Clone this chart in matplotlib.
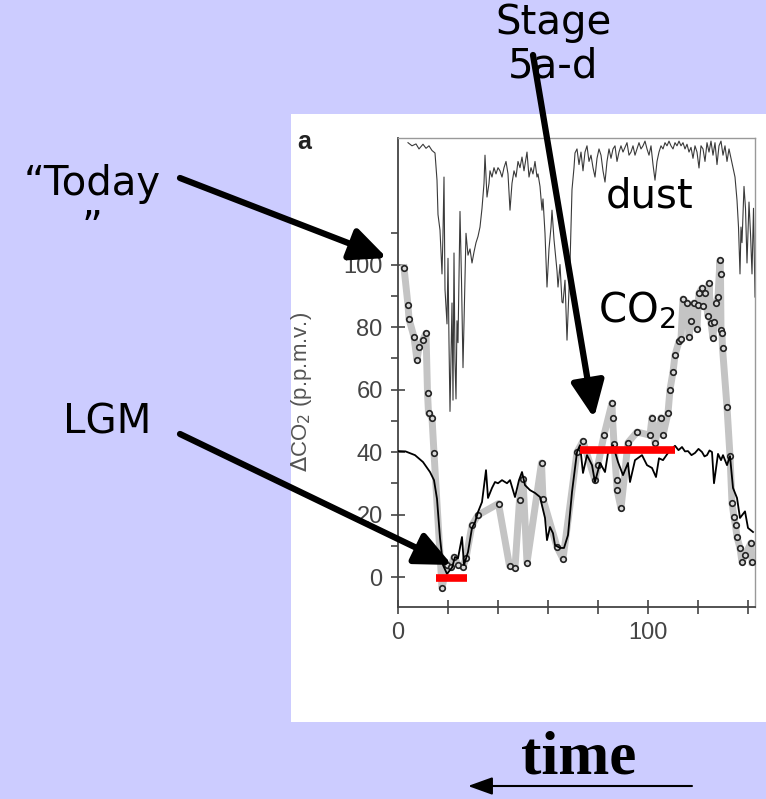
import matplotlib
matplotlib.use("Agg")
import matplotlib.pyplot as plt
from matplotlib.patches import Rectangle, FancyArrowPatch

# -------------------- DATOS --------------------
# CO2 (gris grueso con puntos), edad en kyr
co2_x = [2.4, 4.0, 4.4, 6.4, 7.6, 8.4, 10.0, 11.2, 11.8, 12.2, 13.6, 14.4,
         17.6, 19.6, 21.2, 22.4, 24.0, 26.0, 27.2, 29.6, 32.0, 40.2, 44.6,
         46.8, 48.6, 50.0, 51.6, 57.4, 58.0, 63.6, 66.0, 71.6, 74.0, 78.8,
         80.0, 82.4, 85.6, 85.8, 86.4, 87.4, 87.6, 89.2, 92.0, 95.6, 100.8,
         101.6, 102.8, 105.2, 106.0, 108.0, 108.8, 110.0, 110.8, 112.4, 113.2,
         114.0, 115.6, 116.4, 117.2, 118.4, 119.6, 120.0, 120.4, 121.6, 122.0,
         122.8, 124.0, 124.4, 125.2, 126.0, 126.4, 127.2, 128.0, 128.8, 129.0,
         129.2, 129.6, 129.8, 131.6, 132.8, 133.6, 134.4, 135.0, 135.6, 136.8,
         137.6, 138.8, 141.2, 141.6]
co2_y = [99, 87, 82.6, 76.8, 69.4, 73.6, 76, 78, 59, 52.5, 51, 39.7,
         -3.5, 4, 3.2, 6.4, 4, 3.2, 6.1, 16.6, 19.8, 23.5, 3.6,
         3.0, 24.5, 31.4, 4.6, 36.5, 25.0, 9.6, 5.8, 40, 43.5, 31,
         36, 45.4, 55.7, 51, 42.6, 31, 28, 22, 43, 46.4, 45.4,
         51, 43, 51, 45.4, 52.5, 60, 65.6, 71, 75.4, 76.2,
         89, 87.7, 76.8, 82, 87.7, 79.4, 87, 90.9, 92.5, 86.7,
         90.9, 83.5, 94, 81.3, 76.5, 81.6, 87.7, 89.6, 101.4, 97,
         79, 78, 73.3, 54.4, 38.7, 23.7, 19.2, 16.5, 12.8, 9.3,
         4.8, 7, 10.9, 4.8]

# curva negra fina
temp_x = [0, 3, 6.8, 10, 12.8, 14.4, 15.6, 16.8, 18, 19.6, 21.6, 22.8, 24,
          25.6, 26.4, 28, 29.6, 30.8, 32, 33.6, 35.2, 36, 37.6, 38.8, 40,
          41.6, 43.6, 44.8, 46.8, 48.4, 49.6, 50.8, 52.8, 54.8, 56.8, 58.8,
          59.6, 60.8, 62, 62.8, 64.8, 66.4, 68, 69.6, 71.6, 72.8, 74, 75.6,
          77.6, 78.8, 80.8, 82.8, 84, 86, 88, 90, 92, 92.8, 94.8, 97.6, 99.6,
          101.6, 103.2, 104.4, 106, 108, 110.8, 112.2, 113.6, 114.8, 116,
          117.4, 118.8, 120.2, 121.6, 122.6, 123.6, 124.6, 125.6, 126.4, 128,
          129.2, 130, 131.6, 132.8, 134, 135.6, 136.8, 138.8, 140, 142]
temp_y = [40.3, 40.2, 39, 36.8, 33.6, 31, 25, 12.5, 3.8, 1, 3, 6.4, 6,
          12.8, 3.8, 8, 15.7, 17.5, 20.8, 24, 34.2, 25.3, 28.5, 30.4, 30,
          31, 30, 31, 25.6, 31, 33.6, 29.4, 27.8, 26.9, 25.6, 18.9,
          11.8, 16, 14, 10.2, 9.3, 9.3, 13.4, 27.2, 40, 42.2, 33.3, 39,
          35.8, 30.4, 36.5, 33.6, 39.7, 42.2, 36.8, 32.6, 36.5, 30.4, 37.4, 39, 35.8,
          34.9, 32, 38, 37.4, 39.7, 42, 40.6, 41.6, 40.2, 40.3,
          39.0, 39.7, 41.0, 40, 38.6, 39, 40.5, 40, 30, 39.4,
          37.4, 39, 35.8, 38.7, 28.5, 25.3, 18.9, 21, 15.7, 14.4]

# polvo (dust), en unidades del eje
dust_x = [4.0, 5.6, 7.2, 8.4, 10.0, 11.2, 12.4, 13.6, 14.8, 15.6, 16.0, 16.8,
          17.6, 18.0, 18.4, 18.8, 19.6, 20.0, 20.4, 20.8, 21.2, 21.6, 22.0,
          22.4, 22.8, 23.2, 23.6, 24.0, 24.8, 25.4, 26.0, 26.6, 27.2, 28.0,
          28.8, 29.6, 30.4, 31.2, 32.0, 32.8, 33.6, 34.4, 34.8, 35.2, 35.6,
          36.4, 36.8, 37.6, 38.4, 39.2, 40.0, 40.8, 41.6, 42.4, 43.2, 44.0,
          44.8, 45.6, 46.4, 47.2, 48.0, 48.8, 49.6, 50.4, 51.6, 52.4, 53.2,
          54.0, 54.8, 55.6, 56.0, 56.8, 57.6, 58.0, 58.8, 59.6, 60.4, 61.2,
          61.6, 62.4, 62.8, 63.6, 64.0, 64.8, 65.6, 66.0, 66.8, 67.6, 68.0,
          68.8, 69.6, 70.4, 70.8, 71.6, 72.4, 73.2, 74.0, 74.8, 75.6, 76.4,
          77.2, 78.0, 78.8, 79.6, 80.4, 81.2, 82.0, 82.8, 83.6, 84.4, 85.2,
          86.0, 86.8, 87.6, 88.4, 89.2, 90.0, 90.8, 91.6, 92.4, 93.2, 94.0,
          94.8, 95.6, 96.4, 97.2, 98.0, 98.8, 99.6, 100.4, 101.2, 102.0,
          102.8, 103.6, 104.4, 105.2, 106.0, 106.8, 107.6, 108.4, 109.2,
          110.0, 110.8, 111.6, 112.4, 113.2, 114.0, 114.8, 115.6, 116.4,
          117.2, 118.0, 118.8, 119.6, 120.4, 121.2, 122.0, 122.8, 123.6,
          124.4, 125.2, 126.0, 126.8, 127.6, 128.4, 129.2, 130.0, 130.8,
          131.6, 132.4, 133.2, 134.0, 134.8, 135.6, 136.2, 136.8, 137.2,
          137.6, 138.4, 139.0, 139.6, 140.4, 141.0, 141.6, 142.2, 142.8]
dust_y = [139, 138, 138.6, 137, 138.5, 137.2, 138, 136.5, 135.7, 127, 116, 111,
          97, 110, 128, 92, 81, 102, 75, 53, 70, 87.7, 56.6,
          103.7, 69, 57, 82, 75, 117, 95, 67, 88, 110, 103,
          105, 100.5, 104, 107, 109, 112, 118, 126, 135, 128, 121.6,
          126, 130, 128, 131, 129, 131, 130, 128, 131, 133, 129,
          117.4, 126, 130, 128, 133, 131, 134.4, 130, 136, 128, 131,
          129, 133, 128, 129, 125, 117.4, 121, 110, 92.8, 105, 112,
          117.4, 108, 104.6, 98, 92.8, 100, 88, 87.7, 95, 75.8, 84,
          100, 124, 131, 135.7, 137, 132, 136, 130, 136, 138, 133,
          135, 131, 128, 134, 137, 135, 130, 126.4, 133, 137, 134,
          137, 138, 133, 136, 138, 136, 137.5, 139, 135, 136, 138,
          135, 137, 139, 137, 138, 139.5, 137, 135, 138, 132,
          127, 133, 136, 138, 137, 139, 138, 139.5, 138,
          137, 139, 138, 139.5, 138, 139, 137, 138.5, 136,
          137.5, 134, 138, 136, 130.9, 138, 137, 133, 139,
          136, 139.5, 135, 139, 132, 138, 139.5, 135, 138,
          133, 137, 134, 131, 128, 120.6, 112, 97, 112,
          107, 125, 118, 100.5, 120, 110, 97, 118, 89.6]

# barras rojas (LGM y Stage 5a-d)
lgm_x = [15.2, 27.6]
lgm_y = [-0.3, -0.3]
stage_x = [72.8, 110.8]
stage_y = [40.6, 40.6]

# -------------------- FIGURA --------------------
W, H = 766, 799
fig = plt.figure(figsize=(W / 100, H / 100), dpi=100)
fig.patch.set_facecolor("#ccccff")

# panel blanco
fig.patches.append(Rectangle((291 / W, 1 - 722 / H), (W - 291) / W, (722 - 114) / H,
                             transform=fig.transFigure, facecolor="white",
                             edgecolor="none", zorder=-1))

ax = fig.add_axes([398 / W, 1 - 607 / H, 357 / W, (607 - 138) / H])
ax.set_zorder(1)
ax.set_facecolor("white")
ax.set_xlim(0, 142.8)
ax.set_ylim(-9.6, 140.5)

ax.plot(dust_x, dust_y, color="#3a3a3a", lw=0.8, zorder=2)
ax.plot(co2_x, co2_y, color="#c4c4c4", lw=5, solid_joinstyle="round", zorder=3)
ax.plot(co2_x, co2_y, ls="none", marker="o", ms=4, mfc="#d8d8d8",
        mec="#222222", mew=1.2, zorder=4)
ax.plot(temp_x, temp_y, color="black", lw=1.3, zorder=5)
ax.plot(lgm_x, lgm_y, color="#ff0000", lw=5.5, solid_capstyle="butt", zorder=6)
ax.plot(stage_x, stage_y, color="#ff0000", lw=5.5, solid_capstyle="butt", zorder=6)

# ejes
for s in ["top", "right"]:
    ax.spines[s].set_color("#999999")
    ax.spines[s].set_linewidth(1.0)
for s in ["left", "bottom"]:
    ax.spines[s].set_color("#444444")
    ax.spines[s].set_linewidth(1.3)

ax.set_xticks([0, 100])
ax.set_xticks([20, 40, 60, 80, 120, 140], minor=True)
ax.set_yticks([0, 20, 40, 60, 80, 100])
ax.set_yticks([10, 30, 50, 70, 90, 110], minor=True)
ax.tick_params(axis="both", which="major", direction="inout", length=10,
               width=1.2, color="#444444", labelcolor="#444444", labelsize=17)
ax.tick_params(axis="x", which="minor", direction="inout", length=10,
               width=1.2, color="#444444")
ax.tick_params(axis="y", which="minor", direction="out", length=5,
               width=1.2, color="#444444")
ax.tick_params(axis="y", which="major", pad=6)
ax.tick_params(axis="x", which="major", pad=6)
for lab in ax.get_xticklabels() + ax.get_yticklabels():
    lab.set_family("Liberation Sans")

fig.text(301 / W, 1 - 392 / H, r"$\Delta$CO$_2$ (p.p.m.v.)", rotation=90,
         ha="center", va="center", fontsize=16, color="#555555",
         family="Liberation Sans")
fig.text(304 / W, 1 - 142 / H, "a", ha="center", va="center", fontsize=18,
         fontweight="bold", color="#222222", family="Liberation Sans")

# -------------------- TEXTOS --------------------
# con va="baseline" en texto de dos líneas se alinea la última línea
fig.text(553 / W, 1 - 77 / H, "Stage\n5a-d", ha="center", va="baseline",
         fontsize=29, linespacing=1.1)
fig.text(92 / W, 1 - 240 / H, "\u201cToday\n\u201d", ha="center", va="baseline",
         fontsize=29, linespacing=1.15)
fig.text(107 / W, 1 - 434 / H, "LGM", ha="center", va="baseline", fontsize=29)
fig.text(650 / W, 1 - 208 / H, "dust", ha="center", va="baseline", fontsize=29)
fig.text(598 / W, 1 - 322 / H, "CO$_2$", ha="left", va="baseline", fontsize=29)
fig.text(579 / W, 1 - 773 / H, "time", ha="center", va="baseline", fontsize=44,
         fontweight="bold", family="Liberation Serif")


# -------------------- FLECHAS --------------------
def flecha(x0, y0, x1, y1, lw, hl, hw, ms):
    fig.add_artist(FancyArrowPatch((x0 / W, 1 - y0 / H), (x1 / W, 1 - y1 / H),
                                   transform=fig.transFigure,
                                   arrowstyle=f"-|>,head_length={hl},head_width={hw}",
                                   mutation_scale=ms, lw=lw, color="black",
                                   shrinkA=0, shrinkB=0, zorder=10))


flecha(180, 178, 387, 258, 4.5, 0.55, 0.25, 40)
flecha(180, 434, 452, 565, 4.5, 0.55, 0.25, 40)
flecha(533, 55, 594, 418, 4.5, 0.55, 0.25, 40)
flecha(692, 786, 468, 786, 1.5, 0.75, 0.27, 20)

fig.savefig("out.png", dpi=100, facecolor=fig.get_facecolor())
